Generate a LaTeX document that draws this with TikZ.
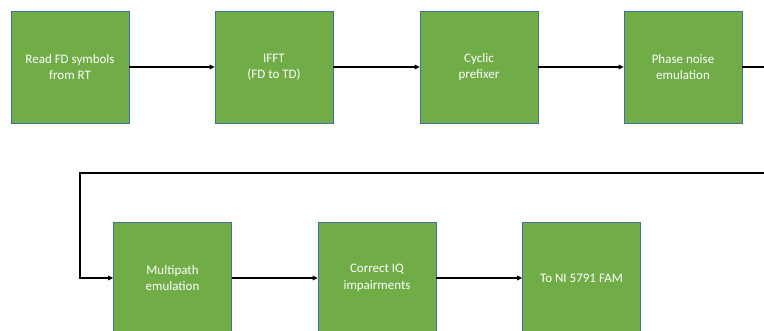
\documentclass[tikz,border=0pt]{standalone}
\usepackage{fontspec}
\setmainfont{Carlito}
\usetikzlibrary{arrows.meta}
\definecolor{blockgreen}{HTML}{70AD47}
\definecolor{blockedge}{HTML}{41719C}
\tikzset{
  block/.style={draw=blockedge, line width=0.7pt, fill=blockgreen,
    minimum width=118pt, minimum height=112pt, inner sep=2pt,
    text=white, align=center, font=\fontsize{13pt}{16.5pt}\selectfont},
  flow/.style={draw=black, line width=1.3pt, -{Triangle[length=5pt,width=4.5pt]}},
  wire/.style={draw=black, line width=1.3pt}
}
\begin{document}
\begin{tikzpicture}[x=1pt,y=-1pt]
  \clip (0,0) rectangle (764,331);
  \fill[white] (0,0) rectangle (764,331);
  % first row
  \node[block] (read)  at (70,67)  {Read FD symbols\\from RT};
  \node[block] (ifft)  at (274,67) {IFFT\\(FD to TD)};
  \node[block] (cp)    at (479,67) {Cyclic\\prefixer};
  \node[block] (phase) at (683,67) {Phase noise\\emulation};
  % second row
  \node[block] (multi) at (172.5,278) {Multipath\\emulation};
  \node[block] (iq)    at (377,278)   {Correct IQ\\impairments};
  \node[block] (fam)   at (581.5,278) {To NI 5791 FAM};
  % wrap-around path between rows
  \coordinate (edgeA) at (764,67);
  \coordinate (edgeB) at (764,173);
  \coordinate (turn)  at (80,173);
  \draw[flow] (read) -- (ifft);
  \draw[flow] (ifft) -- (cp);
  \draw[flow] (cp) -- (phase);
  \draw[wire] (phase.east) -- (edgeA);
  \draw[flow] (edgeB) -- (turn) |- (multi.west);
  \draw[flow] (multi) -- (iq);
  \draw[flow] (iq) -- (fam);
\end{tikzpicture}
\end{document}
